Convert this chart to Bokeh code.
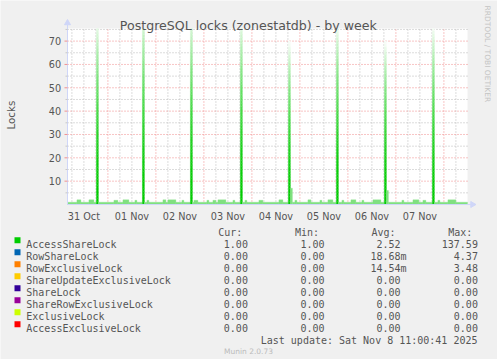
import numpy as np
import pandas as pd
from bokeh.plotting import figure
from bokeh.models import Range1d, ColumnDataSource
from bokeh.embed import file_html
from bokeh.resources import INLINE
from bokeh.core.properties import value

# ---------------- texts ----------------
TITLE = "PostgreSQL locks (zonestatdb) - by week"
Y_LABEL = "Locks"
WATERMARK = "RRDTOOL / TOBI OETIKER"
FOOTER = "Munin 2.0.73"
LAST_UPDATE = "Last update: Sat Nov  8 11:00:41 2025"

# ---------------- axes ----------------
x_start = "2025-10-31 03:48"
x_end = "2025-11-08 11:48"
y_min, y_max = 0, 75.4
y_ticks = [10, 20, 30, 40, 50, 60, 70]
y_tick_labels = ["10", "20", "30", "40", "50", "60", "70"]
y_minor_ticks = [5, 15, 25, 35, 45, 55, 65, 75]
x_tick_times = ["2025-10-31 12:00", "2025-11-01 12:00", "2025-11-02 12:00", "2025-11-03 12:00",
                "2025-11-04 12:00", "2025-11-05 12:00", "2025-11-06 12:00", "2025-11-07 12:00"]
x_tick_labels = ["31 Oct", "01 Nov", "02 Nov", "03 Nov", "04 Nov", "05 Nov", "06 Nov", "07 Nov"]
day_lines = ["2025-11-01 00:00", "2025-11-02 00:00", "2025-11-03 00:00", "2025-11-04 00:00",
             "2025-11-05 00:00", "2025-11-06 00:00", "2025-11-07 00:00", "2025-11-08 00:00"]

# ---------------- AccessShareLock series ----------------
baseline_level = 1.0
bump_starts = ["2025-10-31 08:30", "2025-10-31 14:30", "2025-11-01 03:00", "2025-11-01 07:30",
               "2025-11-01 13:30", "2025-11-01 19:30", "2025-11-02 03:30", "2025-11-02 06:00",
               "2025-11-02 13:00", "2025-11-02 19:00", "2025-11-03 01:30", "2025-11-03 04:30",
               "2025-11-03 07:00", "2025-11-03 14:30", "2025-11-03 20:30", "2025-11-04 03:30",
               "2025-11-04 13:30", "2025-11-04 21:30", "2025-11-05 04:00", "2025-11-05 10:00",
               "2025-11-05 14:00", "2025-11-05 21:00", "2025-11-06 01:30", "2025-11-06 07:00",
               "2025-11-06 12:30", "2025-11-07 03:00", "2025-11-07 08:30", "2025-11-07 13:30",
               "2025-11-07 21:00", "2025-11-08 02:00"]
bump_hours = [2.0, 2.5, 2.0, 3.0, 1.0, 1.0, 1.5, 4.0, 1.0, 2.0, 1.0, 1.5, 4.0, 1.0, 1.0, 2.0,
              2.0, 1.0, 1.5, 1.0, 2.5, 1.0, 2.5, 1.0, 4.0, 1.0, 3.0, 1.5, 1.0, 4.0]
bump_values = [2.0, 2.0, 1.8, 2.0, 1.8, 1.8, 2.0, 2.0, 1.8, 1.8, 1.8, 1.8, 2.0, 1.8, 1.8, 1.8,
               2.0, 1.8, 2.0, 1.8, 2.0, 1.8, 2.0, 1.8, 2.0, 1.8, 2.0, 1.8, 1.8, 2.0]
spike_starts = ["2025-10-31 18:15", "2025-11-01 17:15", "2025-11-02 17:15", "2025-11-03 18:15",
                "2025-11-04 18:15", "2025-11-05 18:15", "2025-11-06 18:15", "2025-11-07 18:15"]
spike_values = [80, 84, 83, 81, 70, 78, 70, 77]
spike_hours = 1.0
shoulder_starts = ["2025-11-04 19:15", "2025-11-06 19:15"]
shoulder_values = [7.0, 6.0]

# ---------------- legend ----------------
lock_names = ["AccessShareLock", "RowShareLock", "RowExclusiveLock", "ShareUpdateExclusiveLock",
              "ShareLock", "ShareRowExclusiveLock", "ExclusiveLock", "AccessExclusiveLock"]
lock_colors = ["#00CC00", "#0066B3", "#FF8000", "#FFCC00", "#330099", "#990099", "#CCFF00", "#FF0000"]
cur_vals = ["1.00", "0.00", "0.00", "0.00", "0.00", "0.00", "0.00", "0.00"]
min_vals = ["1.00", "0.00", "0.00", "0.00", "0.00", "0.00", "0.00", "0.00"]
avg_vals = ["2.52", "18.68m", "14.54m", "0.00", "0.00", "0.00", "0.00", "0.00"]
max_vals = ["137.59", "4.37", "3.48", "0.00", "0.00", "0.00", "0.00", "0.00"]
headers = ["Cur:", "Min:", "Avg:", "Max:"]


def ms(s):
    return pd.Timestamp(s).value / 1e6


# ---------------- page geometry (pixels) ----------------
W, H = 497, 359
FL, FR, FT, FB = 67, 467, 28, 204          # plot area in the page
TXT = "#555555"
AXC = "#CFD6F8"

t0, t1 = ms(x_start), ms(x_end)
px_t = (t1 - t0) / (FR - FL)
px_v = (y_max - y_min) / (FB - FT)

p = figure(width=W, height=H, x_range=Range1d(0, W), y_range=Range1d(H, 0),
           output_backend="svg", toolbar_location=None,
           x_axis_location=None, y_axis_location=None, min_border=0,
           background_fill_color="#f0f0f0", border_fill_color="#f0f0f0", outline_line_color=None)
p.title.visible = False
p.grid.visible = False
# time / value scales placed so that the plot area lands on the RRD canvas
p.extra_x_ranges = {"time": Range1d(t0 - FL * px_t, t0 + (W - FL) * px_t)}
p.extra_y_ranges = {"val": Range1d(y_min - (H - FB) * px_v, y_max + FT * px_v)}
TV = dict(x_range_name="time", y_range_name="val")

# white canvas
p.quad(left=[t0], right=[t1], bottom=[y_min], top=[y_max], fill_color="#ffffff",
       line_color=None, **TV)

# ---------------- build step series ----------------
grid_t = pd.date_range("2025-10-31 03:30", "2025-11-08 12:00", freq="15min")
vals = np.full(len(grid_t), baseline_level)


def put(start, hours, v):
    s = pd.Timestamp(start)
    m = (grid_t >= s) & (grid_t < s + pd.Timedelta(hours=hours))
    vals[m] = np.maximum(vals[m], v)


for s, h, v in zip(bump_starts, bump_hours, bump_values):
    put(s, h, v)
for s, v in zip(spike_starts, spike_values):
    put(s, spike_hours, v)
for s, v in zip(shoulder_starts, shoulder_values):
    put(s, spike_hours, v)

t_ms = grid_t.asi8 / 1e6
step = 15 * 60 * 1000
runs = []
i = 0
while i < len(vals):
    j = i
    while j + 1 < len(vals) and vals[j + 1] == vals[i]:
        j += 1
    l, r = max(t_ms[i], t0), min(t_ms[j] + step, t1)
    if r > l:
        runs.append((l, r, vals[i]))
    i = j + 1

GREEN = (0, 204, 0)


def grad(f):
    g = min(0.97, f ** 1.8)
    return "#%02x%02x%02x" % tuple(int(round(c + (255 - c) * g)) for c in GREEN)


L, R, B, T, C = [], [], [], [], []
for l, r, v in runs:
    if v < 10:
        L.append(l); R.append(r); B.append(0); T.append(v); C.append("#80e080")
    else:
        n = 60
        for k in range(n):
            b, t = v * k / n, v * (k + 1) / n
            if b >= y_max:
                break
            L.append(l); R.append(r); B.append(b); T.append(min(t, y_max))
            C.append(grad((k + 0.5) / n))
src = ColumnDataSource(dict(left=L, right=R, bottom=B, top=T, color=C))

# ---------------- grid ----------------
six_hours = [t.value / 1e6 for t in pd.date_range("2025-10-31 06:00", "2025-11-08 06:00", freq="6h")]
day_ms = [ms(d) for d in day_lines]
minor_x = [t for t in six_hours if t not in day_ms and t0 < t < t1]
p.segment(x0=minor_x, x1=minor_x, y0=[y_min] * len(minor_x), y1=[y_max] * len(minor_x),
          line_color="#b8b8b8", line_dash="1 2", line_width=1, **TV)
p.segment(x0=[t0] * len(y_minor_ticks), x1=[t1] * len(y_minor_ticks), y0=y_minor_ticks,
          y1=y_minor_ticks, line_color="#b8b8b8", line_dash="1 2", line_width=1, **TV)
p.segment(x0=day_ms, x1=day_ms, y0=[y_min] * len(day_ms), y1=[y_max] * len(day_ms),
          line_color="#f08a8a", line_dash="1 2", line_width=1, **TV)
p.segment(x0=[t0] * len(y_ticks), x1=[t1] * len(y_ticks), y0=y_ticks, y1=y_ticks,
          line_color="#f08a8a", line_dash="1 2", line_width=1, **TV)

# data
p.quad(left="left", right="right", bottom="bottom", top="top", fill_color="color",
       line_color="color", line_width=0.3, source=src, **TV)

# ---------------- axes ----------------
p.segment(x0=[t0], x1=[t0], y0=[y_min], y1=[y_max + 4 * px_v], line_color=AXC, line_width=1, **TV)
p.segment(x0=[t0], x1=[t1 + 4 * px_t], y0=[y_min], y1=[y_min], line_color=AXC, line_width=1, **TV)
p.scatter(x=[t0], y=[y_max + 5.5 * px_v], marker="triangle", size=6, fill_color=AXC,
          line_color=AXC, **TV)
p.scatter(x=[t1 + 5 * px_t], y=[y_min], marker="triangle", angle=-np.pi / 2, size=6,
          fill_color=AXC, line_color=AXC, **TV)
# y ticks (pixel x, value y)
p.segment(x0=[FL - 3] * len(y_ticks), x1=[FL] * len(y_ticks), y0=y_ticks, y1=y_ticks,
          line_color="#f09090", y_range_name="val")
p.segment(x0=[FL - 2] * len(y_minor_ticks), x1=[FL] * len(y_minor_ticks), y0=y_minor_ticks,
          y1=y_minor_ticks, line_color="#c8c8c8", y_range_name="val")
sans = value("DejaVu Sans")
p.text(x=[FL - 6.4] * len(y_ticks), y=y_ticks, text=y_tick_labels, text_align="right",
       text_baseline="middle", text_font=sans, text_font_size=value("9.7px"), text_color=TXT,
       y_range_name="val")
p.text(x=[ms(t) for t in x_tick_times], y=[215.6] * len(x_tick_times), text=x_tick_labels,
       text_align="center", text_baseline="alphabetic", text_font=sans,
       text_font_size=value("9.7px"), text_color=TXT, x_range_name="time")

# ---------------- titles ----------------
p.text(x=[247.8], y=[24.5], text=[TITLE], text_align="center", text_baseline="alphabetic",
       text_font=sans, text_font_size=value("12.6px"), text_color=TXT)
p.text(x=[10.7], y=[114.6], text=[Y_LABEL], angle=np.pi / 2, text_align="center",
       text_baseline="middle", text_font=sans, text_font_size=value("10.3px"), text_color=TXT)
p.text(x=[487.3], y=[53.3], text=[WATERMARK], angle=-np.pi / 2, text_align="center",
       text_baseline="middle", text_font=sans, text_font_size=value("7.5px"), text_color="#c4c4c4")

# ---------------- legend ----------------
n = len(lock_names)
row_y = [243.5 + 12 * k for k in range(n)]
mono = value("DejaVu Sans Mono")
fs = value("10px")
p.rect(x=[17] * n, y=[239.7 + 12 * k for k in range(n)], width=6, height=6,
       fill_color=lock_colors, line_color=None)
p.text(x=[25.8] * n, y=row_y, text=lock_names, text_align="left", text_baseline="alphabetic",
       text_font=mono, text_font_size=fs, text_color=TXT)
p.text(x=[241.8, 318.5, 395.1, 471.8], y=[231.5] * 4, text=headers, text_align="right",
       text_baseline="alphabetic", text_font=mono, text_font_size=fs, text_color=TXT)
for xr, col in ((247.4, cur_vals), (324.0, min_vals), (477.4, max_vals)):
    p.text(x=[xr] * n, y=row_y, text=col, text_align="right", text_baseline="alphabetic",
           text_font=mono, text_font_size=fs, text_color=TXT)
p.text(x=[406.0 if a.endswith("m") else 400.0 for a in avg_vals], y=row_y, text=avg_vals,
       text_align="right", text_baseline="alphabetic", text_font=mono, text_font_size=fs,
       text_color=TXT)
p.text(x=[483.0], y=[339.5], text=[LAST_UPDATE], text_align="right", text_baseline="alphabetic",
       text_font=mono, text_font_size=fs, text_color=TXT)
p.text(x=[248.0], y=[351.0], text=[FOOTER], text_align="center", text_baseline="alphabetic",
       text_font=sans, text_font_size=value("7.5px"), text_color="#bbbbbb")

open("out.html", "w").write(file_html(p, INLINE))
